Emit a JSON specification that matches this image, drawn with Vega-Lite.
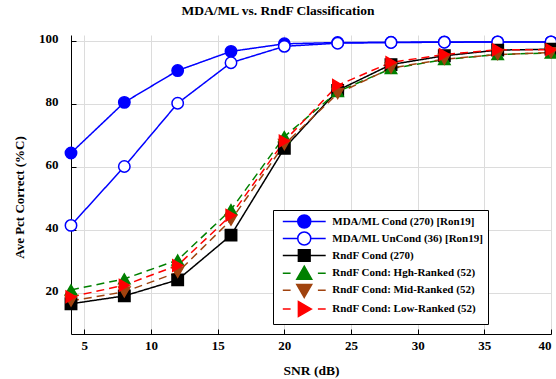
{
  "$schema": "https://vega.github.io/schema/vega-lite/v6.json",
  "width": 480,
  "height": 299,
  "autosize": "none",
  "padding": {"left": 71, "top": 35, "right": 5, "bottom": 45},
  "background": "white",
  "title": {
    "text": "MDA/ML vs. RndF Classification",
    "font": "Liberation Serif",
    "fontSize": 13.5,
    "fontWeight": "bold",
    "color": "black",
    "anchor": "middle",
    "dx": -33,
    "offset": 15
  },
  "data": {
    "values": [
      {"series": "MDA/ML Cond (270) [Ron19]", "snr": 4, "pct": 64.5},
      {"series": "MDA/ML Cond (270) [Ron19]", "snr": 8, "pct": 80.6},
      {"series": "MDA/ML Cond (270) [Ron19]", "snr": 12, "pct": 90.7},
      {"series": "MDA/ML Cond (270) [Ron19]", "snr": 16, "pct": 96.8},
      {"series": "MDA/ML Cond (270) [Ron19]", "snr": 20, "pct": 99.2},
      {"series": "MDA/ML Cond (270) [Ron19]", "snr": 24, "pct": 99.6},
      {"series": "MDA/ML Cond (270) [Ron19]", "snr": 28, "pct": 99.7},
      {"series": "MDA/ML Cond (270) [Ron19]", "snr": 32, "pct": 99.8},
      {"series": "MDA/ML Cond (270) [Ron19]", "snr": 36, "pct": 99.8},
      {"series": "MDA/ML Cond (270) [Ron19]", "snr": 40, "pct": 99.8},
      {"series": "MDA/ML UnCond (36) [Ron19]", "snr": 4, "pct": 41.5},
      {"series": "MDA/ML UnCond (36) [Ron19]", "snr": 8, "pct": 60.2},
      {"series": "MDA/ML UnCond (36) [Ron19]", "snr": 12, "pct": 80.3},
      {"series": "MDA/ML UnCond (36) [Ron19]", "snr": 16, "pct": 93.2},
      {"series": "MDA/ML UnCond (36) [Ron19]", "snr": 20, "pct": 98.4},
      {"series": "MDA/ML UnCond (36) [Ron19]", "snr": 24, "pct": 99.4},
      {"series": "MDA/ML UnCond (36) [Ron19]", "snr": 28, "pct": 99.6},
      {"series": "MDA/ML UnCond (36) [Ron19]", "snr": 32, "pct": 99.7},
      {"series": "MDA/ML UnCond (36) [Ron19]", "snr": 36, "pct": 99.8},
      {"series": "MDA/ML UnCond (36) [Ron19]", "snr": 40, "pct": 99.8},
      {"series": "RndF Cond (270)", "snr": 4, "pct": 16.6},
      {"series": "RndF Cond (270)", "snr": 8, "pct": 19.1},
      {"series": "RndF Cond (270)", "snr": 12, "pct": 24.2},
      {"series": "RndF Cond (270)", "snr": 16, "pct": 38.4},
      {"series": "RndF Cond (270)", "snr": 20, "pct": 66.0},
      {"series": "RndF Cond (270)", "snr": 24, "pct": 84.4},
      {"series": "RndF Cond (270)", "snr": 28, "pct": 92.6},
      {"series": "RndF Cond (270)", "snr": 32, "pct": 95.4},
      {"series": "RndF Cond (270)", "snr": 36, "pct": 97.2},
      {"series": "RndF Cond (270)", "snr": 40, "pct": 97.5},
      {"series": "RndF Cond: Hgh-Ranked  (52)", "snr": 4, "pct": 21.0},
      {"series": "RndF Cond: Hgh-Ranked  (52)", "snr": 8, "pct": 24.5},
      {"series": "RndF Cond: Hgh-Ranked  (52)", "snr": 12, "pct": 30.5},
      {"series": "RndF Cond: Hgh-Ranked  (52)", "snr": 16, "pct": 46.5},
      {"series": "RndF Cond: Hgh-Ranked  (52)", "snr": 20, "pct": 69.7},
      {"series": "RndF Cond: Hgh-Ranked  (52)", "snr": 24, "pct": 84.0},
      {"series": "RndF Cond: Hgh-Ranked  (52)", "snr": 28, "pct": 91.3},
      {"series": "RndF Cond: Hgh-Ranked  (52)", "snr": 32, "pct": 94.2},
      {"series": "RndF Cond: Hgh-Ranked  (52)", "snr": 36, "pct": 95.8},
      {"series": "RndF Cond: Hgh-Ranked  (52)", "snr": 40, "pct": 96.3},
      {"series": "RndF Cond: Mid-Ranked (52)", "snr": 4, "pct": 17.5},
      {"series": "RndF Cond: Mid-Ranked (52)", "snr": 8, "pct": 20.4},
      {"series": "RndF Cond: Mid-Ranked (52)", "snr": 12, "pct": 26.6},
      {"series": "RndF Cond: Mid-Ranked (52)", "snr": 16, "pct": 43.2},
      {"series": "RndF Cond: Mid-Ranked (52)", "snr": 20, "pct": 67.2},
      {"series": "RndF Cond: Mid-Ranked (52)", "snr": 24, "pct": 83.4},
      {"series": "RndF Cond: Mid-Ranked (52)", "snr": 28, "pct": 91.5},
      {"series": "RndF Cond: Mid-Ranked (52)", "snr": 32, "pct": 94.3},
      {"series": "RndF Cond: Mid-Ranked (52)", "snr": 36, "pct": 95.8},
      {"series": "RndF Cond: Mid-Ranked (52)", "snr": 40, "pct": 96.4},
      {"series": "RndF Cond: Low-Ranked (52)", "snr": 4, "pct": 18.8},
      {"series": "RndF Cond: Low-Ranked (52)", "snr": 8, "pct": 22.5},
      {"series": "RndF Cond: Low-Ranked (52)", "snr": 12, "pct": 28.8},
      {"series": "RndF Cond: Low-Ranked (52)", "snr": 16, "pct": 44.7},
      {"series": "RndF Cond: Low-Ranked (52)", "snr": 20, "pct": 68.3},
      {"series": "RndF Cond: Low-Ranked (52)", "snr": 24, "pct": 86.0},
      {"series": "RndF Cond: Low-Ranked (52)", "snr": 28, "pct": 93.3},
      {"series": "RndF Cond: Low-Ranked (52)", "snr": 32, "pct": 95.8},
      {"series": "RndF Cond: Low-Ranked (52)", "snr": 36, "pct": 97.3},
      {"series": "RndF Cond: Low-Ranked (52)", "snr": 40, "pct": 97.3}
    ]
  },
  "encoding": {
    "x": {
      "field": "snr",
      "type": "quantitative",
      "scale": {"domain": [4, 40], "nice": false, "zero": false},
      "axis": {
        "title": "SNR (dB)",
        "values": [5, 10, 15, 20, 25, 30, 35, 40],
        "labelPadding": 10,
        "titlePadding": 11
      }
    },
    "y": {
      "field": "pct",
      "type": "quantitative",
      "scale": {"domain": [7, 102], "nice": false, "zero": false},
      "axis": {
        "title": "Ave Pct Correct (%C)",
        "titleFontSize": 13,
        "values": [20, 40, 60, 80, 100],
        "labelPadding": 18,
        "labelOffset": -3,
        "titleX": -45,
        "titleY": 162
      }
    }
  },
  "resolve": {
    "scale": {"stroke": "independent", "fill": "independent", "shape": "independent"},
    "legend": {"stroke": "independent", "fill": "independent", "shape": "independent"}
  },
  "layer": [
    {
      "mark": {"type": "line", "strokeWidth": 1.5},
      "encoding": {
        "color": {
          "field": "series",
          "type": "nominal",
          "scale": {
            "domain": ["RndF Cond: Low-Ranked (52)", "RndF Cond: Mid-Ranked (52)", "RndF Cond: Hgh-Ranked  (52)", "RndF Cond (270)", "MDA/ML UnCond (36) [Ron19]", "MDA/ML Cond (270) [Ron19]"],
            "range": ["#ff0000", "#a0430f", "#008000", "#000000", "#0000ff", "#0000ff"]
          },
          "legend": null
        },
        "strokeDash": {
          "field": "series",
          "type": "nominal",
          "scale": {
            "domain": ["RndF Cond: Low-Ranked (52)", "RndF Cond: Mid-Ranked (52)", "RndF Cond: Hgh-Ranked  (52)", "RndF Cond (270)", "MDA/ML UnCond (36) [Ron19]", "MDA/ML Cond (270) [Ron19]"],
            "range": [[8, 5], [8, 5], [8, 5], [1, 0], [1, 0], [1, 0]]
          },
          "legend": null
        }
      }
    },
    {
      "mark": {"type": "point", "filled": true, "opacity": 1, "strokeWidth": 1.5, "size": 130},
      "encoding": {
        "stroke": {
          "field": "series",
          "type": "nominal",
          "scale": {
            "domain": ["MDA/ML Cond (270) [Ron19]", "MDA/ML UnCond (36) [Ron19]", "RndF Cond (270)", "RndF Cond: Hgh-Ranked  (52)", "RndF Cond: Mid-Ranked (52)", "RndF Cond: Low-Ranked (52)"],
            "range": ["#0000ff", "#0000ff", "#000000", "#008000", "#a0430f", "#ff0000"]
          },
          "legend": null
        },
        "fill": {
          "field": "series",
          "type": "nominal",
          "scale": {
            "domain": ["MDA/ML Cond (270) [Ron19]", "MDA/ML UnCond (36) [Ron19]", "RndF Cond (270)", "RndF Cond: Hgh-Ranked  (52)", "RndF Cond: Mid-Ranked (52)", "RndF Cond: Low-Ranked (52)"],
            "range": ["#0000ff", "#ffffff", "#000000", "#008000", "#a0430f", "#ff0000"]
          },
          "legend": null
        },
        "shape": {
          "field": "series",
          "type": "nominal",
          "scale": {
            "domain": ["MDA/ML Cond (270) [Ron19]", "MDA/ML UnCond (36) [Ron19]", "RndF Cond (270)", "RndF Cond: Hgh-Ranked  (52)", "RndF Cond: Mid-Ranked (52)", "RndF Cond: Low-Ranked (52)"],
            "range": ["circle", "circle", "square", "triangle-up", "triangle-down", "triangle-right"]
          },
          "legend": null
        }
      }
    },
    {
      "transform": [{"filter": "datum.snr < 0"}],
      "mark": {"type": "point", "filled": true, "opacity": 1, "strokeWidth": 1.5},
      "encoding": {
        "stroke": {
          "field": "series",
          "type": "nominal",
          "scale": {
            "domain": ["MDA/ML Cond (270) [Ron19]", "MDA/ML UnCond (36) [Ron19]", "RndF Cond (270)", "RndF Cond: Hgh-Ranked  (52)", "RndF Cond: Mid-Ranked (52)", "RndF Cond: Low-Ranked (52)"],
            "range": ["#0000ff", "#0000ff", "#000000", "#008000", "#a0430f", "#ff0000"]
          },
          "legend": {
            "title": null,
            "orient": "none",
            "legendX": 202,
            "legendY": 175,
            "labelExpr": "datum.label + '\u2003\u2003\u2003\u2002\u2009'"
          }
        },
        "fill": {
          "field": "series",
          "type": "nominal",
          "scale": {
            "domain": ["MDA/ML Cond (270) [Ron19]", "MDA/ML UnCond (36) [Ron19]", "RndF Cond (270)", "RndF Cond: Hgh-Ranked  (52)", "RndF Cond: Mid-Ranked (52)", "RndF Cond: Low-Ranked (52)"],
            "range": ["#0000ff", "#ffffff", "#000000", "#008000", "#a0430f", "#ff0000"]
          },
          "legend": {
            "title": null,
            "orient": "none",
            "legendX": 202,
            "legendY": 175,
            "labelExpr": "datum.label + '\u2003\u2003\u2003\u2002\u2009'"
          }
        },
        "shape": {
          "field": "series",
          "type": "nominal",
          "scale": {
            "domain": ["MDA/ML Cond (270) [Ron19]", "MDA/ML UnCond (36) [Ron19]", "RndF Cond (270)", "RndF Cond: Hgh-Ranked  (52)", "RndF Cond: Mid-Ranked (52)", "RndF Cond: Low-Ranked (52)"],
            "range": [
              "M-3.3,0H-1M1,0H3.3M1,0A1,1,0,1,1,-1,0A1,1,0,1,1,1,0Z",
              "M-3.3,0H-1M1,0H3.3M1,0A1,1,0,1,1,-1,0A1,1,0,1,1,1,0Z",
              "M-3.3,0H-0.9M0.9,0H3.3M-0.9,-0.9H0.9V0.9H-0.9Z",
              "M-3.3,0H-2.1M2.1,0H3.3M0,-1.1L1.15,0.9L-1.15,0.9Z",
              "M-3.3,0H-2.1M2.1,0H3.3M0,1.1L1.15,-0.9L-1.15,-0.9Z",
              "M-3.3,0H-2.1M2.1,0H3.3M1.1,0L-0.9,-1.15L-0.9,1.15Z"
            ]
          },
          "legend": {
            "title": null,
            "orient": "none",
            "legendX": 202,
            "legendY": 175,
            "labelExpr": "datum.label + '\u2003\u2003\u2003\u2002\u2009'"
          }
        }
      }
    }
  ],
  "config": {
    "view": {"stroke": null},
    "font": "Liberation Serif",
    "axis": {
      "labelFont": "Liberation Serif",
      "labelFontSize": 13,
      "labelFontWeight": "bold",
      "labelColor": "black",
      "titleFont": "Liberation Serif",
      "titleFontSize": 13.5,
      "titleFontWeight": "bold",
      "titleColor": "black",
      "domainColor": "black",
      "domainWidth": 1,
      "tickColor": "black",
      "tickSize": -5,
      "gridColor": "#dcdcdc",
      "gridWidth": 1
    },
    "legend": {
      "labelFont": "Liberation Serif",
      "labelFontSize": 11,
      "labelFontWeight": "bold",
      "labelColor": "black",
      "symbolSize": 169,
      "symbolStrokeWidth": 1.5,
      "symbolOpacity": 1,
      "symbolOffset": 19.75,
      "labelOffset": 20.5,
      "padding": 4,
      "rowPadding": -2.2,
      "strokeColor": "black",
      "fillColor": "white",
      "labelLimit": 400
    }
  }
}
